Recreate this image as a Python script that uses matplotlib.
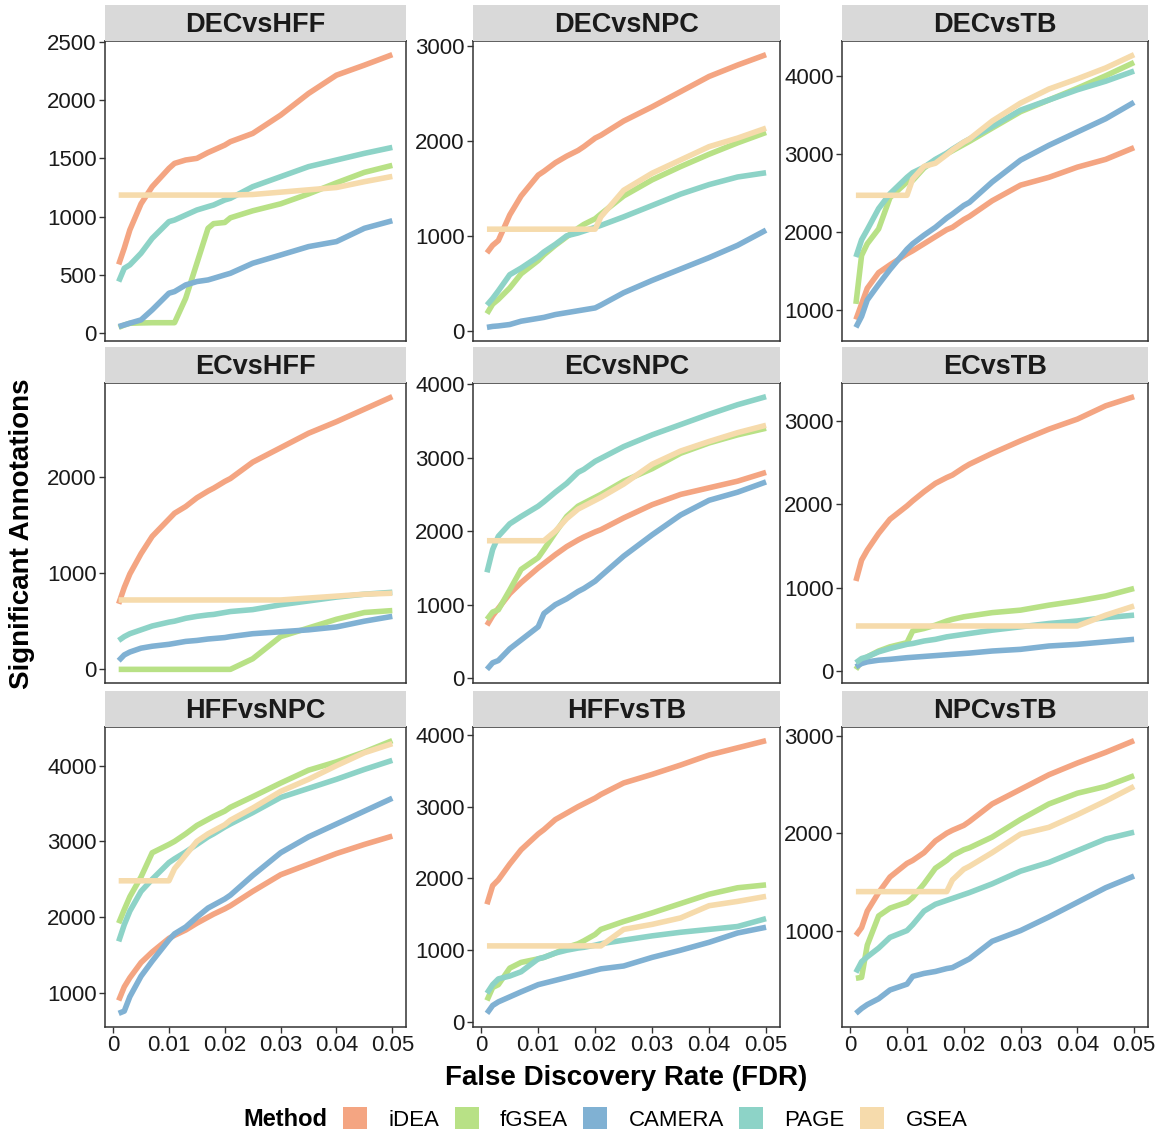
import matplotlib
matplotlib.use("Agg")
import matplotlib.pyplot as plt
from matplotlib.patches import Patch

plt.rcParams['font.family'] = ['Liberation Sans', 'DejaVu Sans']

FDR = [0.001, 0.002, 0.003, 0.005, 0.007, 0.010, 0.011, 0.013, 0.015, 0.017,
       0.018, 0.020, 0.021, 0.025, 0.030, 0.035, 0.040, 0.045, 0.050]

METHODS = ["iDEA", "fGSEA", "CAMERA", "PAGE", "GSEA"]
COLORS = ["#F4A582", "#B8E186", "#80B1D3", "#8DD3C7", "#F6DBAC"]

DECvsHFF = {
    "iDEA":   [590, 730, 886, 1110, 1257, 1414, 1457, 1486, 1500, 1550, 1571, 1614, 1643, 1714, 1871, 2057, 2214, 2300, 2390],
    "fGSEA":  [50, 70, 85, 88, 90, 90, 90, 300, 600, 900, 940, 950, 990, 1050, 1110, 1195, 1290, 1380, 1440],
    "CAMERA": [57, 71, 86, 114, 200, 343, 357, 414, 443, 457, 471, 500, 514, 600, 671, 743, 786, 900, 965],
    "PAGE":   [443, 557, 586, 686, 814, 957, 971, 1014, 1057, 1086, 1100, 1143, 1157, 1257, 1343, 1429, 1486, 1543, 1594],
    "GSEA":   [1185, 1185, 1185, 1185, 1185, 1185, 1185, 1185, 1185, 1185, 1185, 1185, 1185, 1190, 1210, 1230, 1250, 1300, 1345],
}
DECvsNPC = {
    "iDEA":   [820, 900, 950, 1220, 1420, 1640, 1680, 1770, 1840, 1900, 1940, 2030, 2060, 2210, 2360, 2520, 2680, 2800, 2910],
    "fGSEA":  [180, 280, 330, 450, 600, 740, 800, 900, 990, 1080, 1120, 1180, 1230, 1420, 1590, 1730, 1860, 1980, 2090],
    "CAMERA": [35, 45, 50, 65, 100, 130, 140, 170, 190, 210, 220, 240, 270, 400, 530, 650, 770, 900, 1060],
    "PAGE":   [270, 340, 420, 590, 660, 780, 830, 910, 1000, 1030, 1050, 1090, 1110, 1200, 1320, 1440, 1540, 1620, 1665],
    "GSEA":   [1070, 1070, 1070, 1070, 1070, 1070, 1070, 1070, 1070, 1070, 1070, 1070, 1200, 1480, 1660, 1800, 1940, 2030, 2135],
}
DECvsTB = {
    "iDEA":   [880, 1080, 1280, 1480, 1580, 1720, 1760, 1850, 1940, 2030, 2060, 2160, 2200, 2400, 2600, 2700, 2830, 2930, 3080],
    "fGSEA":  [1080, 1700, 1850, 2040, 2440, 2640, 2660, 2820, 2920, 3000, 3040, 3120, 3160, 3330, 3540, 3690, 3840, 4000, 4170],
    "CAMERA": [780, 920, 1130, 1330, 1520, 1780, 1850, 1960, 2060, 2180, 2230, 2340, 2380, 2640, 2920, 3110, 3280, 3450, 3660],
    "PAGE":   [1680, 1900, 2030, 2300, 2490, 2700, 2760, 2830, 2930, 3010, 3060, 3150, 3190, 3350, 3560, 3690, 3820, 3930, 4060],
    "GSEA":   [2470, 2470, 2470, 2470, 2470, 2470, 2680, 2840, 2880, 2990, 3050, 3150, 3190, 3420, 3650, 3830, 3960, 4100, 4270],
}
ECvsHFF = {
    "iDEA":   [680, 850, 990, 1200, 1380, 1560, 1620, 1690, 1780, 1850, 1880, 1950, 1980, 2150, 2300, 2450, 2570, 2700, 2830],
    "fGSEA":  [0, 0, 0, 0, 0, 0, 0, 0, 0, 0, 0, 0, 0, 110, 340, 430, 520, 590, 610],
    "CAMERA": [90, 150, 180, 220, 240, 260, 270, 290, 300, 315, 320, 330, 340, 370, 390, 410, 440, 500, 550],
    "PAGE":   [300, 340, 370, 410, 450, 490, 500, 530, 550, 565, 570, 590, 600, 620, 670, 710, 750, 780, 800],
    "GSEA":   [720, 720, 720, 720, 720, 720, 720, 720, 720, 720, 720, 720, 720, 720, 720, 740, 760, 780, 790],
}
ECvsNPC = {
    "iDEA":   [720, 850, 950, 1150, 1300, 1500, 1560, 1680, 1790, 1880, 1920, 1990, 2020, 2180, 2360, 2500, 2590, 2680, 2800],
    "fGSEA":  [800, 900, 930, 1200, 1480, 1640, 1750, 1980, 2200, 2340, 2380, 2460, 2500, 2680, 2850, 3060, 3200, 3310, 3400],
    "CAMERA": [120, 210, 240, 400, 520, 700, 880, 1000, 1080, 1180, 1220, 1320, 1390, 1660, 1950, 2220, 2420, 2530, 2670],
    "PAGE":   [1440, 1750, 1930, 2100, 2200, 2340, 2400, 2530, 2650, 2800, 2840, 2950, 2990, 3150, 3310, 3450, 3590, 3720, 3830],
    "GSEA":   [1870, 1870, 1870, 1870, 1870, 1870, 1870, 2000, 2170, 2300, 2340, 2420, 2460, 2640, 2910, 3090, 3220, 3340, 3440],
}
ECvsTB = {
    "iDEA":   [1080, 1330, 1450, 1650, 1820, 1980, 2040, 2150, 2250, 2320, 2350, 2440, 2480, 2610, 2760, 2900, 3020, 3180, 3290],
    "fGSEA":  [20, 120, 170, 240, 290, 340, 480, 510, 550, 600, 620, 650, 660, 700, 730, 790, 840, 900, 990],
    "CAMERA": [50, 90, 110, 130, 140, 160, 165, 175, 185, 195, 200, 210, 215, 240, 260, 300, 320, 350, 380],
    "PAGE":   [100, 150, 170, 230, 270, 320, 330, 360, 380, 410, 420, 440, 450, 490, 530, 570, 600, 640, 670],
    "GSEA":   [540, 540, 540, 540, 540, 540, 540, 540, 540, 540, 540, 540, 540, 540, 540, 540, 540, 670, 780],
}
HFFvsNPC = {
    "iDEA":   [900, 1080, 1200, 1400, 1540, 1720, 1760, 1830, 1920, 2000, 2040, 2110, 2150, 2340, 2560, 2700, 2840, 2960, 3070],
    "fGSEA":  [1920, 2100, 2270, 2530, 2850, 2960, 3000, 3100, 3210, 3290, 3330, 3400, 3450, 3590, 3770, 3940, 4050, 4180, 4330],
    "CAMERA": [730, 760, 950, 1220, 1420, 1700, 1780, 1870, 2000, 2120, 2160, 2240, 2290, 2550, 2850, 3060, 3230, 3400, 3570],
    "PAGE":   [1680, 1900, 2080, 2340, 2500, 2720, 2770, 2860, 2960, 3060, 3100, 3190, 3230, 3380, 3580, 3700, 3820, 3950, 4070],
    "GSEA":   [2480, 2480, 2480, 2480, 2480, 2480, 2640, 2820, 3000, 3100, 3140, 3220, 3280, 3440, 3660, 3820, 4000, 4170, 4290],
}
HFFvsTB = {
    "iDEA":   [1640, 1900, 1980, 2200, 2400, 2620, 2680, 2820, 2910, 3000, 3040, 3120, 3170, 3330, 3450, 3580, 3720, 3820, 3920],
    "fGSEA":  [300, 480, 520, 750, 830, 880, 900, 960, 1040, 1090, 1130, 1220, 1290, 1400, 1520, 1650, 1780, 1870, 1910],
    "CAMERA": [120, 230, 280, 350, 420, 520, 540, 580, 620, 660, 680, 720, 740, 780, 900, 1000, 1110, 1240, 1320],
    "PAGE":   [400, 520, 600, 640, 700, 880, 900, 960, 1000, 1030, 1040, 1070, 1090, 1140, 1200, 1250, 1290, 1330, 1440],
    "GSEA":   [1060, 1060, 1060, 1060, 1060, 1060, 1060, 1060, 1060, 1060, 1060, 1060, 1060, 1290, 1360, 1450, 1620, 1680, 1750],
}
NPCvsTB = {
    "iDEA":   [950, 1030, 1200, 1390, 1550, 1690, 1720, 1800, 1920, 2000, 2030, 2080, 2120, 2300, 2450, 2600, 2720, 2830, 2950],
    "fGSEA":  [510, 520, 850, 1150, 1230, 1290, 1340, 1480, 1640, 1720, 1770, 1830, 1850, 1960, 2140, 2300, 2410, 2480, 2590],
    "CAMERA": [150, 200, 240, 300, 390, 450, 530, 560, 580, 610, 620, 680, 710, 890, 1000, 1140, 1290, 1440, 1560],
    "PAGE":   [570, 680, 730, 820, 930, 1000, 1060, 1200, 1270, 1310, 1330, 1370, 1390, 1480, 1610, 1700, 1820, 1940, 2010],
    "GSEA":   [1400, 1400, 1400, 1400, 1400, 1400, 1400, 1400, 1400, 1400, 1520, 1630, 1660, 1800, 1990, 2060, 2190, 2330, 2480],
}

PANELS = ["DECvsHFF", "DECvsNPC", "DECvsTB", "ECvsHFF", "ECvsNPC", "ECvsTB",
          "HFFvsNPC", "HFFvsTB", "NPCvsTB"]
DATA = [DECvsHFF, DECvsNPC, DECvsTB, ECvsHFF, ECvsNPC, ECvsTB,
        HFFvsNPC, HFFvsTB, NPCvsTB]
YTICKS = [[0, 500, 1000, 1500, 2000, 2500], [0, 1000, 2000, 3000], [1000, 2000, 3000, 4000],
          [0, 1000, 2000], [0, 1000, 2000, 3000, 4000], [0, 1000, 2000, 3000],
          [1000, 2000, 3000, 4000], [0, 1000, 2000, 3000, 4000], [1000, 2000, 3000]]
XTICKS = [0, 0.01, 0.02, 0.03, 0.04, 0.05]
XLABELS = ["0", "0.01", "0.02", "0.03", "0.04", "0.05"]

W, H = 1163, 1134
fig = plt.figure(figsize=(W / 100, H / 100), dpi=100)

col_left = [105, 473, 842]
col_w = [301, 307, 306]
row_top = [41, 383, 727]
panel_h = 300
strip_h = 36


def px_axes(l, t, w, h):
    return fig.add_axes([l / W, 1 - (t + h) / H, w / W, h / H])


for i, name in enumerate(PANELS):
    r, c = divmod(i, 3)
    ax = px_axes(col_left[c], row_top[r], col_w[c], panel_h)
    for m, col in zip(METHODS, COLORS):
        ax.plot(FDR, DATA[i][m], color=col, lw=4, solid_capstyle='butt')
    ax.set_xlim(-0.00145, 0.05245)
    ax.margins(y=0.05)
    ax.set_yticks(YTICKS[i])
    ax.set_xticks(XTICKS)
    if r == 2:
        ax.set_xticklabels(XLABELS)
    else:
        ax.tick_params(axis='x', bottom=False, labelbottom=False)
    ax.tick_params(labelsize=16, colors='#333333', labelcolor='#1a1a1a',
                   length=4, width=1, pad=2)
    for s in ax.spines.values():
        s.set_color('#333333')
        s.set_linewidth(1.1)

    st = px_axes(col_left[c], row_top[r] - strip_h, col_w[c], strip_h)
    st.set_facecolor('#D9D9D9')
    st.set_xticks([])
    st.set_yticks([])
    for s in st.spines.values():
        s.set_visible(False)
    st.text(0.5, 0.45, name, ha='center', va='center', fontsize=19.5,
            fontweight='bold', color='#1a1a1a', transform=st.transAxes)

fig.text(22 / W, 1 - 534 / H, "Significant Annotations", rotation=90,
         ha='center', va='center', fontsize=20, fontweight='bold')
fig.text(626 / W, 1 - 1078 / H, "False Discovery Rate (FDR)",
         ha='center', va='center', fontsize=20, fontweight='bold')

fig.text(243 / W, 1 - 1119 / H, "Method", ha='left', va='center',
         fontsize=17, fontweight='bold')
handles = [Patch(facecolor=c, edgecolor='none') for c in COLORS]
fig.legend(handles, METHODS, loc='center left', bbox_to_anchor=(343 / W, 1 - 1119 / H),
           ncol=5, frameon=False, fontsize=16, handlelength=1.08, handleheight=1.08,
           handletextpad=0.95, columnspacing=0.7, borderaxespad=0, borderpad=0)

fig.savefig("out.png", dpi=100)
